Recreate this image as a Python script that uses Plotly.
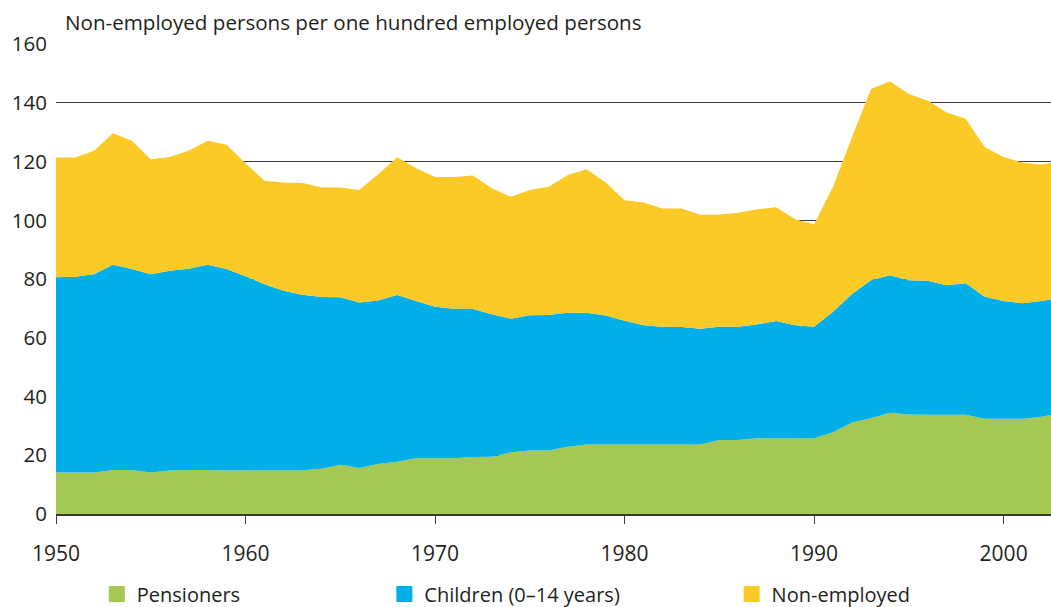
import plotly.graph_objects as go

# ---- data ----
years = list(range(1950, 2004))

pensioners = [
    14.1, 14.1, 14.1, 15.0, 15.0, 14.1, 14.8, 15.0, 15.0, 14.8,   # 1950-59
    14.9, 14.9, 14.9, 14.9, 15.4, 16.8, 15.7, 17.0, 17.8, 19.0,   # 1960-69
    19.0, 19.0, 19.4, 19.5, 21.0, 21.6, 21.6, 22.9, 23.7, 23.7,   # 1970-79
    23.7, 23.7, 23.7, 23.7, 23.7, 25.2, 25.2, 25.8, 25.8, 25.8,   # 1980-89
    25.8, 27.8, 31.2, 32.6, 34.5, 33.9, 33.8, 33.8, 33.8, 32.4,   # 1990-99
    32.4, 32.4, 33.1, 34.4,                                       # 2000-03
]

children = [
    66.5, 66.7, 67.5, 69.9, 68.4, 67.5, 68.0, 68.5, 69.9, 68.6,
    66.1, 63.3, 61.1, 59.8, 58.5, 57.0, 56.3, 55.7, 56.8, 53.5,
    51.6, 50.9, 50.4, 48.5, 45.5, 46.1, 46.2, 45.6, 44.8, 43.9,
    42.1, 40.6, 40.1, 40.0, 39.4, 38.6, 38.6, 38.8, 39.9, 38.5,
    38.0, 41.1, 43.7, 47.0, 46.8, 45.7, 45.6, 44.1, 44.8, 41.6,
    40.1, 39.4, 39.4, 39.4,
]

non_employed = [
    40.8, 40.6, 42.1, 44.8, 43.7, 39.2, 38.8, 40.2, 42.2, 42.3,
    38.4, 35.3, 36.9, 38.0, 37.4, 37.4, 38.3, 43.0, 46.9, 45.2,
    44.2, 44.9, 45.5, 42.9, 41.5, 42.6, 43.6, 46.9, 48.9, 45.3,
    41.0, 41.8, 40.2, 40.3, 38.8, 38.2, 38.8, 39.2, 38.8, 36.1,
    34.9, 42.5, 53.5, 65.1, 66.1, 63.4, 61.3, 58.8, 56.0, 51.0,
    49.1, 47.8, 46.5, 46.3,
]

series_names = ["Pensioners", "Children (0\u201314 years)", "Non-employed"]
series_colors = ["#A5C753", "#00AEE8", "#FBCA27"]
title_text = "Non-employed persons per one hundred employed persons"
x_ticks = [1950, 1960, 1970, 1980, 1990, 2000]
y_ticks = list(range(0, 161, 20))

# ---- figure ----
FONT = "Open Sans, Liberation Sans, sans-serif"
TEXT = "#231F20"
AXIS = "#3A3A3A"

fig = go.Figure()
for name, vals, color in zip(series_names, [pensioners, children, non_employed], series_colors):
    fig.add_trace(go.Scatter(
        x=years, y=vals, name=name, stackgroup="one", mode="none",
        fillcolor=color, line=dict(width=0), showlegend=False,
    ))

legend_ids = ["legend", "legend2", "legend3"]
legend_x = [0.041, 0.330, 0.679]
for name, color, lg in zip(series_names, series_colors, legend_ids):
    fig.add_trace(go.Scatter(
        x=[None], y=[None], mode="markers", name=name, legend=lg,
        marker=dict(symbol="square", size=16, color=color, line=dict(width=0)),
        showlegend=True, hoverinfo="skip",
    ))

legend_common = dict(
    orientation="h", yanchor="middle", y=-0.170, xanchor="left",
    font=dict(family=FONT, size=20, color=TEXT), bgcolor="rgba(0,0,0,0)",
    borderwidth=0,
)
fig.update_layout(
    legend=dict(x=legend_x[0], **legend_common),
    legend2=dict(x=legend_x[1], **legend_common),
    legend3=dict(x=legend_x[2], **legend_common),
)

fig.add_annotation(
    text=title_text, xref="paper", yref="paper", x=0.007, y=1.0468,
    xanchor="left", yanchor="middle", showarrow=False,
    font=dict(family=FONT, size=20.6, color=TEXT),
)

fig.update_xaxes(
    range=[1950, 2002.5], tickvals=x_ticks, ticktext=[str(t) for t in x_ticks],
    ticks="outside", ticklen=8, tickwidth=1, tickcolor=AXIS,
    showline=True, linecolor=AXIS, linewidth=1.5,
    showgrid=False, zeroline=False, ticklabelstandoff=12,
    tickfont=dict(family=FONT, size=21, color=TEXT),
    automargin=False, fixedrange=True,
)
fig.update_yaxes(
    range=[0, 160.05], tickvals=y_ticks,
    ticks="", showline=False, showgrid=True, gridcolor=AXIS, gridwidth=1,
    zeroline=False, ticklabelstandoff=8,
    tickfont=dict(family=FONT, size=20.5, color=TEXT),
    automargin=False, fixedrange=True,
)

fig.update_layout(
    width=1051, height=607,
    margin=dict(l=56, r=0, t=44, b=93, autoexpand=False),
    paper_bgcolor="white", plot_bgcolor="white",
    font=dict(family=FONT, size=20, color=TEXT),
    hovermode=False,
)

fig.write_html(
    "out.html",
    config={"displayModeBar": False},
    post_script="document.body.style.margin='0';document.body.style.overflow='hidden';",
)
